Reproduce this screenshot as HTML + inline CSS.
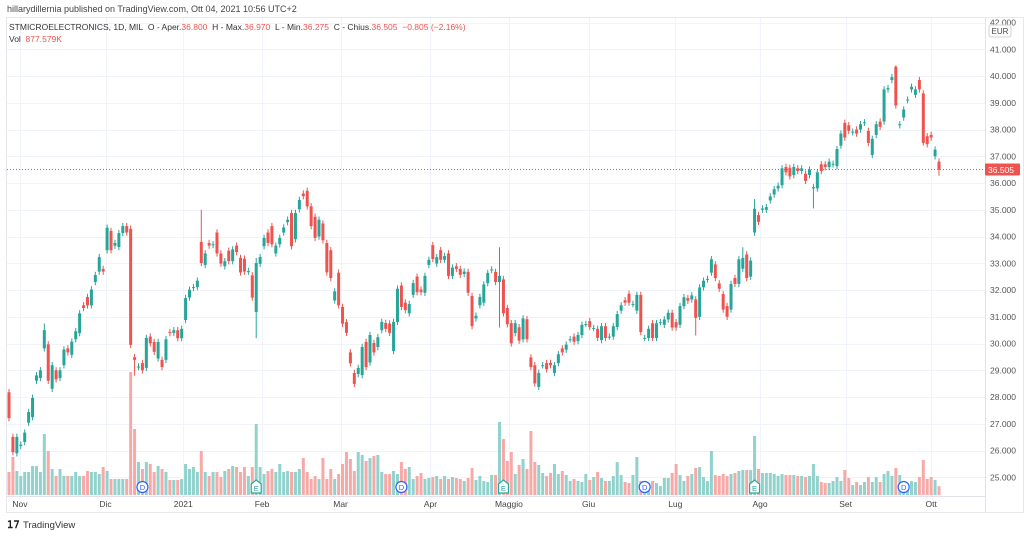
<!DOCTYPE html>
<html><head><meta charset="utf-8">
<style>
body{margin:0;background:#fff;font-family:"Liberation Sans",sans-serif;}
#wrap{position:relative;width:1024px;height:537px;overflow:hidden;background:#fff;}
svg text{font-family:"Liberation Sans",sans-serif;}
</style></head>
<body>
<div id="wrap">
<svg id="chart" width="1024" height="537" viewBox="0 0 1024 537">
  <text x="7" y="12" font-size="9" fill="#444">hillarydillernia published on TradingView.com, Ott 04, 2021 10:56 UTC+2</text>
  <rect x="6.5" y="17.5" width="1017" height="495" fill="none" stroke="#e6e8ee"/>
  <g id="grid"></g>
  <g id="vols"></g>
  <g id="candles"></g>
  <line x1="7" x2="985" y1="496.5" y2="496.5" stroke="#e0e3eb"/>
  <line x1="985.5" x2="985.5" y1="18" y2="512" stroke="#e0e3eb"/>
  <g id="yaxis"></g>
  <g id="xaxis"></g>
  <g id="events"></g>
  <text x="9" y="30" font-size="8.5" fill="#333">STMICROELECTRONICS, 1D, MIL&#160;&#160;O - Aper.<tspan fill="#ef5350">36.800</tspan>&#160;&#160;H - Max.<tspan fill="#ef5350">36.970</tspan>&#160;&#160;L - Min.<tspan fill="#ef5350">36.275</tspan>&#160;&#160;C - Chius.<tspan fill="#ef5350">36.505</tspan>&#160;&#160;<tspan fill="#ef5350">−0.805 (−2.16%)</tspan></text>
  <text x="9" y="42" font-size="8.5" fill="#333">Vol&#160;&#160;<tspan fill="#ef5350">877.579K</tspan></text>
  <rect x="989" y="25" width="22" height="12" rx="2" fill="#fff" stroke="#d0d3db"/>
  <text x="1000" y="34" font-size="8" fill="#444" text-anchor="middle">EUR</text>
  <g>
    <text x="7" y="528" font-size="10" font-weight="bold" fill="#222">𝟣𝟩</text>
    <text x="23" y="528" font-size="9.5" fill="#333">TradingView</text>
  </g>
</svg>
</div>
<script>
const opens=[28.18,26.51,25.9,26.17,26.32,27.04,27.25,28.61,28.71,29.82,29.97,28.31,29.0,28.71,29.19,29.82,29.58,30.16,30.39,31.43,31.74,31.43,32.3,32.69,32.79,33.49,34.21,33.66,33.61,34.13,34.39,34.29,29.49,29.12,29.27,29.09,30.26,30.06,29.44,29.39,29.39,30.43,30.4,30.5,30.2,30.88,31.72,32.08,32.11,33.8,32.94,33.76,33.68,34.15,33.37,32.89,33.47,33.08,33.66,33.2,33.17,32.69,32.55,31.18,32.98,33.64,34.15,34.39,33.37,33.71,34.15,34.54,34.88,33.9,35.02,35.61,35.71,35.13,34.74,34.0,34.49,33.76,33.49,31.61,32.65,31.37,30.8,29.67,28.9,28.86,28.82,30.06,29.29,30.02,29.87,30.5,30.77,30.75,29.72,30.81,32.17,31.53,31.13,31.82,32.5,32.02,31.9,32.94,33.68,32.99,33.49,33.13,33.37,32.53,32.89,32.79,32.6,32.68,31.78,30.94,31.43,31.53,32.26,32.75,32.68,32.3,32.4,31.33,30.76,30.39,30.61,30.16,30.91,29.48,29.19,28.38,29.19,29.27,29.28,28.9,29.27,29.82,29.77,30.16,30.26,30.09,30.32,30.73,30.84,30.58,30.55,30.13,30.65,30.26,30.26,30.62,31.23,31.62,31.86,31.48,31.23,31.82,30.21,30.21,30.76,30.21,30.8,
30.7,30.9,31.15,30.8,30.7,31.4,31.7,31.65,31.65,31.0,32.1,32.4,32.65,32.96,32.25,31.85,31.4,31.27,32.45,32.23,32.8,33.33,32.5,34.15,34.8,35.0,35.0,35.35,35.57,35.8,35.92,36.6,36.57,36.3,36.55,36.45,36.35,36.3,35.8,35.8,36.7,36.7,36.6,36.7,36.63,37.4,38.25,38.16,37.9,38.0,38.0,38.25,37.95,37.05,37.8,38.3,38.3,39.5,39.85,40.35,38.16,38.45,39.1,39.5,39.3,39.85,39.35,37.75,37.8,37.0,36.8];
const closes=[27.21,25.94,26.51,26.22,26.67,27.44,27.97,28.81,29.0,30.5,28.61,29.19,28.66,29.0,29.78,29.67,30.07,30.46,31.13,31.33,31.43,32.02,32.56,33.23,32.69,34.33,33.49,33.76,34.13,34.39,34.15,29.95,29.39,29.14,29.0,30.21,30.01,29.69,30.06,29.12,30.16,30.39,30.5,30.2,30.55,31.7,32.01,32.11,32.35,33.01,33.37,33.66,33.71,33.37,32.99,33.08,33.08,33.52,33.42,32.66,32.69,32.71,31.72,33.01,33.23,33.95,33.76,33.71,33.66,33.95,34.34,34.63,33.64,34.88,35.37,35.51,35.13,34.39,33.95,34.63,33.86,32.66,32.45,31.95,31.43,30.74,30.4,29.26,28.49,29.09,29.87,29.12,30.32,29.67,30.24,30.81,30.55,30.4,30.81,32.05,31.37,31.25,31.48,32.26,31.92,31.92,32.53,33.13,33.16,33.23,33.13,33.27,32.53,32.84,32.79,32.57,32.69,31.9,30.65,31.04,31.74,32.21,32.64,32.77,32.3,32.53,31.13,30.72,30.01,30.76,30.11,30.94,30.16,29.12,28.51,28.9,29.19,29.04,29.19,29.19,29.6,29.67,29.96,30.16,30.07,30.32,30.7,30.73,30.62,30.58,30.21,30.65,30.21,30.26,30.65,31.1,31.43,31.53,31.53,31.48,31.82,30.43,30.21,30.55,30.21,30.76,30.8,
30.9,31.15,30.6,30.6,31.4,31.73,31.6,31.8,30.96,32.1,32.35,32.42,33.15,32.45,32.05,31.27,31.0,32.23,32.23,33.15,33.2,32.45,33.1,35.04,34.55,35.05,35.1,35.5,35.77,35.9,36.55,36.4,36.25,36.6,36.45,36.55,36.08,36.5,35.85,36.4,36.45,36.6,36.8,36.72,37.27,37.85,37.7,37.95,37.92,37.85,38.2,38.27,37.5,37.65,38.2,38.1,39.5,39.55,39.96,38.9,38.2,38.75,39.12,39.6,39.5,39.5,37.5,37.45,37.7,37.25,36.505];
const vols=[2.3,3.8,2.4,1.9,2.3,2.3,2.9,2.9,2.3,6.1,4.4,2.6,1.9,2.6,1.9,1.9,1.9,2.3,1.9,1.9,2.4,2.3,2.3,2.1,2.8,2.4,1.6,1.6,1.6,1.6,1.6,12.3,6.6,3.3,2.6,3.3,3.1,2.3,2.9,2.6,2.3,1.5,1.5,1.5,1.6,3.1,2.6,2.8,2.3,4.4,2.3,1.9,2.3,2.3,1.8,2.4,2.6,2.9,2.8,2.3,2.8,1.9,2.8,7.1,2.8,2.1,2.4,2.6,2.3,3.1,2.3,2.4,2.3,2.3,2.6,3.7,2.3,1.6,1.9,1.6,3.7,1.6,2.6,1.6,2.1,3.1,4.3,3.6,2.4,4.3,4.0,3.4,3.7,3.9,4.0,2.3,2.1,2.1,2.4,2.1,3.3,2.6,2.8,1.6,1.9,2.2,1.6,1.7,1.8,1.9,1.6,1.9,1.6,1.8,1.7,1.6,1.4,1.7,2.7,1.5,1.9,1.4,1.3,2.0,2.0,7.3,5.6,3.4,4.3,2.1,3.0,3.6,2.6,6.4,3.3,3.0,2.2,1.9,2.2,3.1,2.1,2.4,2.0,1.4,1.6,1.4,1.3,2.1,1.5,1.8,2.3,1.7,1.4,1.4,1.9,3.3,2.0,1.3,1.2,2.0,3.8,1.4,1.2,1.2,1.4,1.2,0.9,
1.7,1.7,2.2,3.1,2.0,1.4,1.9,2.1,2.7,2.8,1.8,1.4,4.4,2.0,1.9,2.1,1.9,2.1,2.2,2.4,2.5,2.5,2.5,5.9,2.6,2.2,2.2,2.2,2.1,1.9,2.1,2.0,2.0,2.0,1.9,1.9,1.8,1.9,3.1,1.9,1.3,1.2,1.2,1.4,1.8,1.4,2.5,1.7,1.0,1.3,1.0,1.3,1.8,1.3,1.8,1.3,2.1,2.4,1.9,2.7,2.0,1.3,1.0,1.4,1.3,1.8,3.5,1.6,1.8,1.5,0.88];
const wickHighIdx=[9,49,63,125,190,226,187];
const wickHighVal=[30.75,35.0,33.2,33.6,35.4,40.4,33.6];
const wickLowIdx=[32,63,125,175,205,233,237];
const wickLowVal=[28.8,30.2,30.6,30.3,35.05,37.4,36.275];
const priceTicks=[25,26,27,28,29,30,31,32,33,34,35,36,37,38,39,40,41,42];
const monthLabels=["Nov","Dic","2021","Feb","Mar","Apr","Maggio","Giu","Lug","Ago","Set","Ott"];
const monthIdx=[2.8,24.6,44.4,64.5,84.5,107.4,127.4,147.7,169.8,191.4,213.2,235];
const dividendIdx=[34,100,162,228];
const earningsIdx=[63,126,190];
const lastPrice=36.505;

const NS="http://www.w3.org/2000/svg";
const X0=9, STEP=(939-9)/(closes.length-1);
const xs=i=>X0+i*STEP;
const ys=p=>49.3+(41-p)*26.75;
const VB=495, VS=10;
const vy=v=>VB-v*VS;
function mk(tag,attrs,parent){const e=document.createElementNS(NS,tag);for(const k in attrs)e.setAttribute(k,attrs[k]);parent.appendChild(e);return e;}
const G=document.getElementById('grid'),V=document.getElementById('vols'),C=document.getElementById('candles'),YA=document.getElementById('yaxis'),XA=document.getElementById('xaxis'),EV=document.getElementById('events');
priceTicks.forEach(p=>{
  const y=Math.round(ys(p))+0.5;
  const l=mk('line',{x1:7,x2:985,y1:y,y2:y,stroke:'#f0f3fa'},G);
  
  
  const t=mk('text',{x:990,y:ys(p)+3,'font-size':8.5,fill:'#555'},YA);
  
  
  t.textContent=p.toFixed(3);
});
monthIdx.forEach((idx,k)=>{
  const x=Math.round(xs(idx))+0.5;
  const l=mk('line',{x1:x,x2:x,y1:18,y2:496,stroke:'#f0f3fa'},G);
  
  
  const t=mk('text',{x:xs(idx),y:507,'font-size':8.5,fill:'#444','text-anchor':'middle'},XA);
  
  
  t.textContent=monthLabels[k];
});
closes.forEach((c,i)=>{
  const o=opens[i], up=c>=o, x=xs(i);
  const vr=mk('rect',{x:x-1.5,y:vy(vols[i]),width:3,height:vols[i]*VS,fill:up?'#92d2cc':'#f7a9a7'},V);
  
  
  let hi=Math.max(o,c)+0.12, lo=Math.min(o,c)-0.12;
  const hk=wickHighIdx.indexOf(i); if(hk>=0)hi=wickHighVal[hk];
  const lk=wickLowIdx.indexOf(i); if(lk>=0)lo=wickLowVal[lk];
  const col=up?'#26a69a':'#ef5350';
  const w=mk('line',{x1:x,x2:x,y1:ys(hi),y2:ys(lo),stroke:col,'stroke-width':1},C);
  
  
  const top=ys(Math.max(o,c)), h=Math.max(1,ys(Math.min(o,c))-top);
  const b=mk('rect',{x:x-1.5,y:top,width:3,height:h,fill:col},C);
  
  
});
const ly=ys(lastPrice);
const dl=mk('line',{x1:7,x2:985,y1:ly,y2:ly,stroke:'#ef5350','stroke-dasharray':'1 2','stroke-width':1},C);


const lr=mk('rect',{x:985,y:ly-6,width:35,height:12,rx:1,fill:'#ef5350'},YA);


const lt=mk('text',{x:988,y:ly+3.5,'font-size':8.5,fill:'#fff'},YA);


lt.textContent=lastPrice.toFixed(3);
dividendIdx.forEach(i=>{
  const g=mk('g',{},EV);
  
  
  mk('circle',{cx:xs(i),cy:487,r:5.5,fill:'#fff',stroke:'#2962ff','stroke-width':1.2},g);
  const t=mk('text',{x:xs(i),y:490,'font-size':7.5,fill:'#2962ff','text-anchor':'middle'},g);
  t.textContent='D';
});
earningsIdx.forEach(i=>{
  const g=mk('g',{},EV);
  
  
  const x=xs(i);
  mk('path',{d:`M${x-5} 493 V484 L${x} 480 L${x+5} 484 V493 Z`,fill:'#fff',stroke:'#26a69a','stroke-width':1.2},g);
  const t=mk('text',{x:x,y:491,'font-size':7.5,fill:'#26a69a','text-anchor':'middle'},g);
  t.textContent='E';
});
</script>
</body></html>
